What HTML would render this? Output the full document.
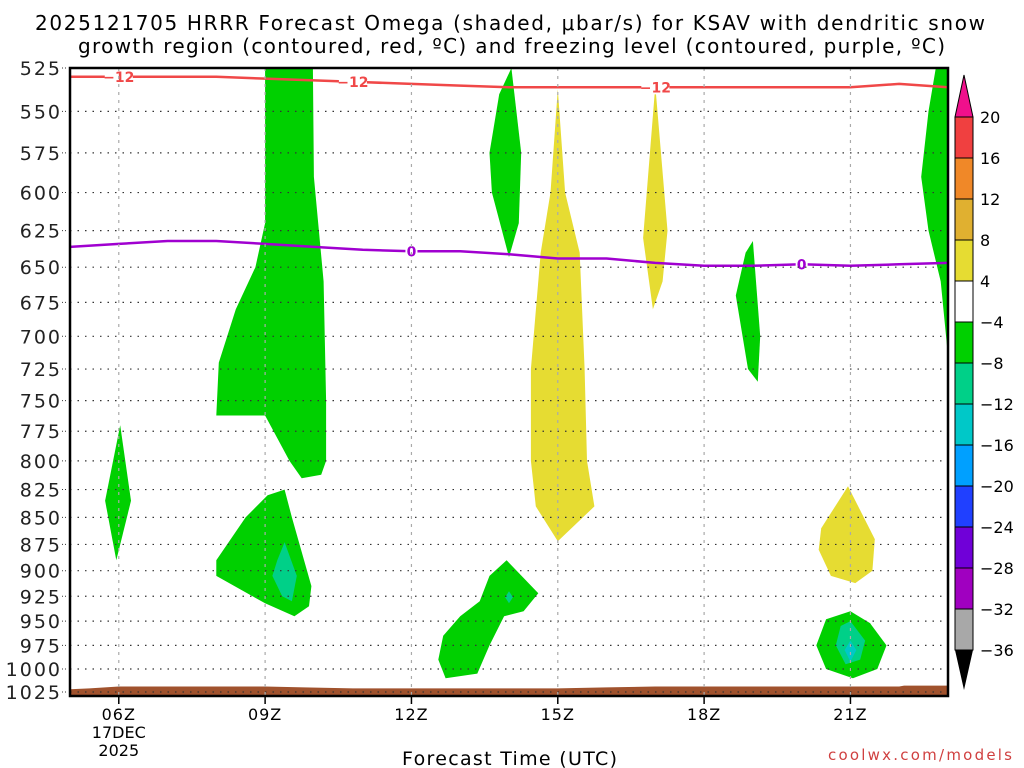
<!DOCTYPE html>
<html><head><meta charset="utf-8"><style>
body{margin:0;background:#fff;width:1024px;height:768px;overflow:hidden}
svg{display:block;font-family:"DejaVu Sans","Liberation Sans",sans-serif}
</style></head><body>
<svg id="c" width="1024" height="768"></svg>
<script>
const hourTicks=[6,9,12,15,18,21];
const hourLabels=["06Z","09Z","12Z","15Z","18Z","21Z"];
const pTicks=[525,550,575,600,625,650,675,700,725,750,775,800,825,850,875,900,925,950,975,1000,1025];
const cbLevels=[20,16,12,8,4,-4,-8,-12,-16,-20,-24,-28,-32,-36];
const cbColors=["#f04040","#f08828","#e0b030","#e6dc32","#ffffff","#00d000","#00d088","#00c8c8","#00a0ff","#2040ff","#7000d8","#a000c0","#a8a8a8"];
const shapeGreen=[
[[9.0,525],[9.98,525],[10.0,590],[10.2,660],[10.25,750],[10.25,800],[10.15,812],[9.75,815],[9.5,800],[9.0,762],[8.0,762],[8.05,720],[8.4,680],[8.8,650],[9.0,620]],
[[6.03,770],[6.25,835],[5.95,890],[5.72,835]],
[[9.4,825],[9.55,850],[9.95,915],[9.9,935],[9.6,945],[9.0,932],[8.0,905],[8.0,890],[8.6,850],[9.05,830]],
[[14.05,525],[14.25,575],[14.2,620],[14.0,643],[13.65,600],[13.6,575],[13.8,540]],
[[19.0,632],[19.15,700],[19.1,735],[18.9,725],[18.65,670],[18.85,640]],
[[22.75,525],[23,525],[23,715],[22.85,660],[22.6,625],[22.45,590],[22.6,550]],
[[21.0,940],[21.4,952],[21.74,975],[21.55,1000],[21.05,1010],[20.5,1000],[20.3,975],[20.5,948]],
[[13.95,890],[14.6,922],[14.3,940],[13.9,945],[13.6,975],[13.35,1005],[12.7,1010],[12.55,990],[12.65,965],[13.0,945],[13.4,930],[13.6,905]]
];
const shapeYellow=[
[[15.0,537],[15.15,600],[15.45,640],[15.55,725],[15.6,800],[15.75,840],[15.0,872],[14.55,840],[14.45,800],[14.45,725],[14.65,640],[14.85,600]],
[[17.0,535],[17.25,625],[17.15,660],[16.95,680],[16.75,630],[16.85,590]],
[[20.95,822],[21.5,870],[21.45,900],[21.1,912],[20.6,905],[20.35,880],[20.4,860]]
];
const shapeTeal=[
[[9.4,873],[9.65,905],[9.55,930],[9.35,925],[9.15,905],[9.25,890]],
[[21.0,950],[21.3,970],[21.2,990],[20.9,995],[20.7,975],[20.8,955]],
[[14.0,920],[14.08,926],[14.0,932],[13.92,926]]
];
const shapeCyan=[[[21.0,970],[21.12,980],[21.0,992],[20.88,980]]];
const lineHours=[5,6,7,8,9,10,11,12,13,14,15,16,17,18,19,20,21,22,23];
const redP=[530,530,530,530,531,532,533,534,535,536,536,536,536,536,536,536,536,534,536];
const purpleP=[636,634,632,632,634,636,638,639,639,641,644,644,647,649,649,648,649,648,647];
const sfcHours=[5,5.4,6,9,9.8,10.8,15,16,17,22,22.1,23];
const sfcP=[1022,1021,1019,1019,1020,1021,1021,1020,1019,1019,1018,1018];

const X0=70,X1=948,Y0=68,Y1=692,H0=5,H1=23,P0=525,P1=1025;
const xs=h=>X0+(h-H0)/(H1-H0)*(X1-X0);
const ys=p=>Y0+(Math.log(p)-Math.log(P0))/(Math.log(P1)-Math.log(P0))*(Y1-Y0);
const svg=document.getElementById('c');const NS="http://www.w3.org/2000/svg";
function mk(t,a,p){const e=document.createElementNS(NS,t);for(const k in a)e.setAttribute(k,a[k]);(p||svg).appendChild(e);return e;}
function txt(x,y,s,a,p){const e=mk('text',Object.assign({x:x,y:y},a),p);e.textContent=s;return e;}
const pts=a=>a.map(q=>xs(q[0]).toFixed(1)+","+ys(q[1]).toFixed(1)).join(" ");

const t1=txt(35,30,"2025121705 HRRR Forecast Omega (shaded, \u03bcbar/s) for KSAV with dendritic snow",{"font-size":"20",textLength:"950",lengthAdjust:"spacing"});


const t2=txt(78,53,"growth region (contoured, red, \u00baC) and freezing level (contoured, purple, \u00baC)",{"font-size":"20",textLength:"867",lengthAdjust:"spacing"});



const clip=mk('clipPath',{id:'pc'});mk('rect',{x:X0,y:Y0,width:X1-X0,height:Y1+4-Y0},clip);
const g=mk('g',{'clip-path':'url(#pc)'});


function fill(list,col,name){list.forEach(s=>{const e=mk('polygon',{points:pts(s),fill:col},g);

});}
fill(shapeGreen,"#00d000","omega-green-region");
fill(shapeYellow,"#e6dc32","omega-yellow-region");
fill(shapeTeal,"#00d088","omega-teal-region");
fill(shapeCyan,"#00c8c8","omega-cyan-region");
pTicks.forEach(p=>{const l=mk('line',{x1:X0,x2:X1,y1:ys(p),y2:ys(p),stroke:"#333","stroke-width":1.2,"stroke-dasharray":"1.5 6"});

});
hourTicks.forEach(h=>{const l=mk('line',{x1:xs(h),x2:xs(h),y1:Y0,y2:Y1+4,stroke:"#aaa","stroke-width":1.2,"stroke-dasharray":"3 5"});

});
const sp=sfcHours.map((h,i)=>[h,sfcP[i]]);
const terr=mk('polygon',{points:pts(sp)+` ${X1},700 ${X0},700`,fill:"#a0522d"},g);


function cline(P,col,name){const d=lineHours.map((h,i)=>[h,P[i]]);const e=mk('polyline',{points:pts(d),fill:"none",stroke:col,"stroke-width":2.5},g);

}
cline(redP,"#f04848","dgz-minus12-contour");
cline(purpleP,"#a000d0","freezing-level-contour");
function interp(arr,h){for(let i=0;i<lineHours.length-1;i++)if(h>=lineHours[i]&&h<=lineHours[i+1]){const f=(h-lineHours[i]);return arr[i]+(arr[i+1]-arr[i])*f;}return arr[0];}
[6.0,10.8,17.0].forEach(h=>{const y=ys(interp(redP,h));mk('rect',{x:xs(h)-14,y:y-7,width:28,height:14,fill:"#fff"},g);
const e=txt(xs(h),y+5,"\u221212",{"text-anchor":"middle","font-size":"14","font-weight":"bold",fill:"#f04848"},g);

});
[12.0,20.0].forEach(h=>{const y=ys(interp(purpleP,h));mk('rect',{x:xs(h)-6,y:y-7,width:12,height:14,fill:"#fff"},g);
const e=txt(xs(h),y+5,"0",{"text-anchor":"middle","font-size":"14","font-weight":"bold",fill:"#a000d0"},g);

});
const fr=mk('rect',{x:X0,y:Y0,width:X1-X0,height:696-Y0,fill:"none",stroke:"#000","stroke-width":2.5});


pTicks.forEach(p=>{const e=txt(62,ys(p)+7,String(p),{"text-anchor":"end","font-size":"19",fill:"#222","letter-spacing":"2"});


mk('line',{x1:62,x2:68,y1:ys(p),y2:ys(p),stroke:"#333","stroke-dasharray":"1 2"});});
hourTicks.forEach((h,i)=>{mk('line',{x1:xs(h),x2:xs(h),y1:696,y2:704,stroke:"#000","stroke-width":1.5});
const e=txt(xs(h),720,hourLabels[i],{"text-anchor":"middle","font-size":"16","letter-spacing":"1"});

});
const d1=txt(xs(6),738,"17DEC",{"text-anchor":"middle","font-size":"16"});


const d2=txt(xs(6),756,"2025",{"text-anchor":"middle","font-size":"16"});


const xt=txt(402,765,"Forecast Time (UTC)",{"font-size":"19",textLength:"215",lengthAdjust:"spacing"});


const cr=txt(828,760,"coolwx.com/models",{"font-size":"15",fill:"#d04040",textLength:"184",lengthAdjust:"spacing"});


const CX=955,CW=18,CT=117,CS=(650-117)/13;
const cb=mk('g',{});


mk('polygon',{points:`${CX},${CT} ${CX+CW},${CT} ${CX+CW/2},75`,fill:"#f0108c",stroke:"#000","stroke-width":1},cb);
cbColors.forEach((c,i)=>{mk('rect',{x:CX,y:CT+i*CS,width:CW,height:CS,fill:c,stroke:"#000","stroke-width":1},cb);});
mk('polygon',{points:`${CX},650 ${CX+CW},650 ${CX+CW/2},690`,fill:"#000"},cb);
cbLevels.forEach((v,i)=>{const e=txt(980,CT+i*CS+6,(v<0?"\u2212":"")+Math.abs(v),{"font-size":"16"},cb);

});
</script>
</body></html>
